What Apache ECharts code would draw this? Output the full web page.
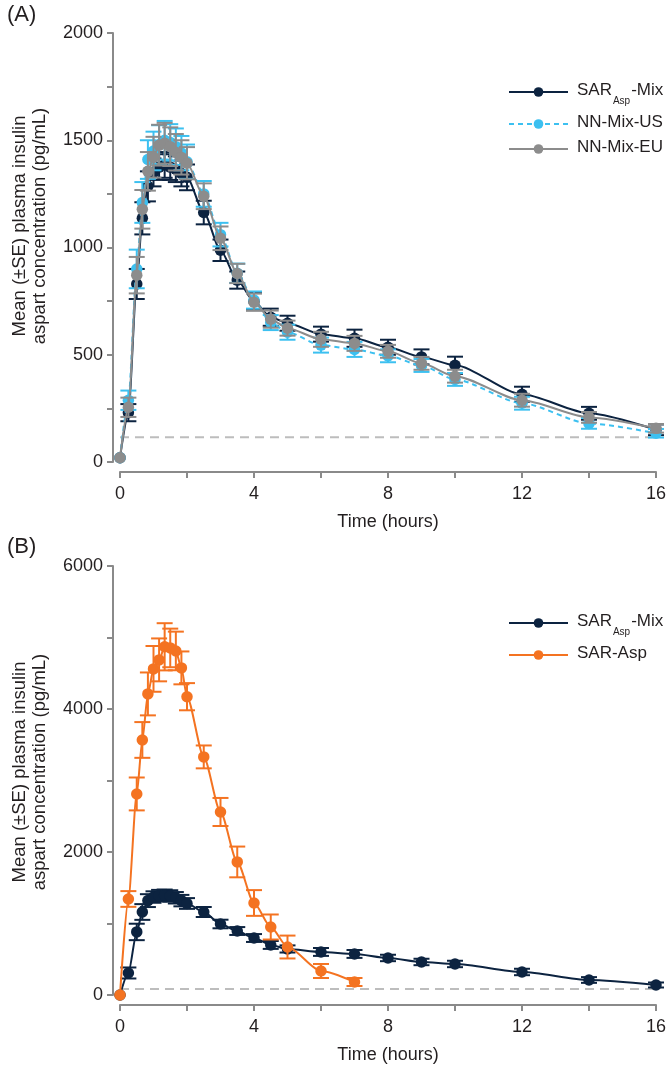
<!DOCTYPE html>
<html><head><meta charset="utf-8">
<script src="https://cdn.jsdelivr.net/npm/echarts@6/dist/echarts.min.js"></script>
<style>html,body{margin:0;padding:0;background:#fff}#c{width:669px;height:1065px}</style>
</head><body><div id="c"></div>
<script>
// ---------- DATA ----------
const xTicks = [0, 4, 8, 12, 16];
const timesA = [0, 0.25, 0.5, 0.667, 0.833, 1, 1.167, 1.333, 1.5, 1.667, 1.833, 2, 2.5, 3, 3.5, 4, 4.5, 5, 6, 7, 8, 9, 10, 12, 14, 16];
const sarMixA   = [20, 230, 830, 1136, 1285, 1350, 1375, 1385, 1375, 1365, 1345, 1327, 1163, 987, 848, 748, 675, 647, 596, 577, 535, 490, 451, 316, 227, 150];
const sarMixASE = [0, 40, 70, 75, 70, 65, 60, 60, 60, 60, 60, 60, 55, 50, 40, 40, 40, 35, 35, 40, 35, 35, 40, 35, 30, 25];
const nnUS      = [20, 288, 900, 1210, 1410, 1450, 1480, 1500, 1490, 1470, 1440, 1400, 1250, 1060, 880, 755, 650, 605, 545, 525, 495, 450, 385, 274, 180, 134];
const nnUSSE    = [0, 45, 90, 95, 90, 90, 90, 90, 85, 85, 80, 80, 60, 55, 45, 40, 35, 35, 35, 35, 30, 30, 30, 30, 25, 20];
const nnEU      = [20, 255, 871, 1178, 1355, 1421, 1477, 1486, 1470, 1444, 1420, 1393, 1239, 1043, 879, 745, 666, 624, 572, 553, 516, 460, 400, 288, 208, 157];
const nnEUSE    = [0, 45, 85, 90, 90, 95, 95, 95, 90, 85, 80, 75, 60, 55, 45, 40, 40, 35, 35, 35, 30, 30, 30, 30, 25, 20];
const lloqA = 115;

const timesB = [0, 0.25, 0.5, 0.667, 0.833, 1, 1.167, 1.333, 1.5, 1.667, 1.833, 2, 2.5, 3, 3.5, 4, 4.5, 5, 6, 7, 8, 9, 10, 12, 14, 16];
const sarMixB   = [0, 308, 882, 1161, 1320, 1370, 1390, 1395, 1385, 1360, 1320, 1280, 1161, 993, 895, 797, 700, 644, 602, 574, 518, 462, 434, 322, 210, 140];
const sarMixBSE = [0, 77, 115, 110, 90, 80, 80, 80, 80, 80, 80, 75, 70, 60, 55, 55, 55, 50, 55, 55, 45, 45, 45, 45, 40, 35];
const timesAsp = [0, 0.25, 0.5, 0.667, 0.833, 1, 1.167, 1.333, 1.5, 1.667, 1.833, 2, 2.5, 3, 3.5, 4, 4.5, 5, 6, 7];
const sarAsp    = [0, 1343, 2812, 3567, 4211, 4561, 4687, 4870, 4854, 4812, 4575, 4172, 3330, 2560, 1861, 1287, 951, 671, 336, 182];
const sarAspSE  = [0, 110, 230, 250, 300, 320, 300, 330, 270, 270, 230, 190, 160, 196, 215, 180, 175, 160, 98, 56];
const lloqB = 85;

const yTicksA = [0, 500, 1000, 1500, 2000];
const yTicksB = [0, 2000, 4000, 6000];
const yTitle = 'Mean (±SE) plasma insulin\naspart concentration (pg/mL)';
const xTitle = 'Time (hours)';

// ---------- STYLE ----------
const FONT = '"Liberation Sans", Arial, Helvetica, sans-serif';
const TXT = '#231f20';
const AX = '#8a8a8a';
const C_NAVY = '#0c2340', C_BLUE = '#3cc0f0', C_GRAY = '#8c8c8c', C_ORANGE = '#f47321';

const chart = echarts.init(document.getElementById('c'));

function errSeries(id, times, mean, se, color, gi, z) {
  return {
    type: 'custom', name: id + '_se', xAxisIndex: gi, yAxisIndex: gi, z: z, silent: true,
    data: times.map((t, i) => [t, mean[i] - se[i], mean[i] + se[i]]),
    encode: { x: 0, y: [1, 2] },
    renderItem: function (params, api) {
      const x = api.value(0), lo = api.value(1), hi = api.value(2);
      if (hi - lo <= 0) return null;
      const a = api.coord([x, lo]), b = api.coord([x, hi]);
      const w = 8, st = { stroke: color, lineWidth: 2 };
      return { type: 'group', children: [
        { type: 'line', shape: { x1: a[0], y1: a[1], x2: b[0], y2: b[1] }, style: st },
        { type: 'line', shape: { x1: a[0] - w, y1: a[1], x2: a[0] + w, y2: a[1] }, style: st },
        { type: 'line', shape: { x1: b[0] - w, y1: b[1], x2: b[0] + w, y2: b[1] }, style: st }
      ] };
    }
  };
}
function lineSeries(id, times, mean, color, gi, z, dashed) {
  return {
    type: 'line', name: id, xAxisIndex: gi, yAxisIndex: gi, z: z,
    data: times.map((t, i) => [t, mean[i]]),
    smooth: 0.25, smoothMonotone: 'x',
    symbol: 'circle', symbolSize: 11.5,
    itemStyle: { color: color },
    lineStyle: { color: color, width: 2, type: dashed ? [5, 4] : 'solid' },
    emphasis: { disabled: true }, animation: false
  };
}
function lloqSeries(val, gi) {
  return {
    type: 'line', name: 'lloq' + gi, xAxisIndex: gi, yAxisIndex: gi, z: 1, silent: true,
    data: [[xTicks[0], val], [xTicks[xTicks.length - 1], val]],
    symbol: 'none', lineStyle: { color: '#bdbdbd', width: 2, type: [9, 6] }, animation: false
  };
}
function xAxis(gi) {
  return {
    type: 'value', gridIndex: gi, min: xTicks[0], max: xTicks[xTicks.length - 1], interval: 4, offset: 10,
    axisLine: { show: true, onZero: false, lineStyle: { color: AX, width: 2 } },
    axisTick: { show: true, length: 6, lineStyle: { color: AX, width: 2 } },
    minorTick: { show: true, splitNumber: 2, length: 6, lineStyle: { color: AX, width: 2 } },
    splitLine: { show: false },
    axisLabel: { color: TXT, fontSize: 18, fontFamily: FONT, margin: 13, formatter: v => String(v) },
    name: xTitle, nameLocation: 'middle', nameGap: 41,
    nameTextStyle: { color: TXT, fontSize: 18, fontFamily: FONT }
  };
}
function yAxis(gi, ticks) {
  return {
    type: 'value', gridIndex: gi, min: ticks[0], max: ticks[ticks.length - 1], interval: ticks[1] - ticks[0], offset: 7,
    axisLine: { show: true, onZero: false, lineStyle: { color: AX, width: 2 } },
    axisTick: { show: true, length: 6, lineStyle: { color: AX, width: 2 } },
    minorTick: { show: true, splitNumber: 2, length: 6, lineStyle: { color: AX, width: 2 } },
    splitLine: { show: false },
    axisLabel: { color: TXT, fontSize: 18, fontFamily: FONT, margin: 10, formatter: v => String(v) }
  };
}
const legendText = {
  sarA: '{a|SAR}{s|Asp}{a|-Mix}', nnUS: '{a|NN-Mix-US}', nnEU: '{a|NN-Mix-EU}',
  sarB: '{a|SAR}{s|Asp}{a|-Mix}', asp: '{a|SAR-Asp}'
};
function legend(names, top) {
  return {
    data: names, orient: 'vertical', left: 508, top: top, padding: 0, itemGap: 8,
    itemWidth: 59, itemHeight: 12, selectedMode: false,
    formatter: n => legendText[n],
    textStyle: { color: TXT, fontFamily: FONT, fontSize: 17, padding: [0, 0, 0, 4],
      rich: {
        a: { fontSize: 17, fontFamily: FONT, color: TXT, lineHeight: 20, verticalAlign: 'top' },
        s: { fontSize: 10, fontFamily: FONT, color: TXT, lineHeight: 10, padding: [14, 1, 0, 1], verticalAlign: 'top' }
      } }
  };
}

chart.setOption({
  animation: false,
  backgroundColor: '#fff',
  grid: [
    { left: 120, right: 11, top: 33, height: 429 },
    { left: 120, right: 11, top: 566, height: 429 }
  ],
  xAxis: [xAxis(0), xAxis(1)],
  yAxis: [yAxis(0, yTicksA), yAxis(1, yTicksB)],
  legend: [legend(['sarA', 'nnUS', 'nnEU'], 82), legend(['sarB', 'asp'], 613)],
  graphic: [
    { type: 'text', left: 7, top: 4, style: { text: '(A)', font: '22px ' + FONT, fill: TXT } },
    { type: 'text', left: 7, top: 536, style: { text: '(B)', font: '22px ' + FONT, fill: TXT } },
    { type: 'text', x: 30, y: 226, rotation: Math.PI / 2,
      style: { text: yTitle, font: '18.5px ' + FONT, fill: TXT, align: 'center', verticalAlign: 'middle', lineHeight: 20 } },
    { type: 'text', x: 30, y: 772, rotation: Math.PI / 2,
      style: { text: yTitle, font: '18.5px ' + FONT, fill: TXT, align: 'center', verticalAlign: 'middle', lineHeight: 20 } }
  ],
  series: [
    lloqSeries(lloqA, 0),
    errSeries('sarA', timesA, sarMixA, sarMixASE, C_NAVY, 0, 2),
    lineSeries('sarA', timesA, sarMixA, C_NAVY, 0, 3, false),
    errSeries('nnUS', timesA, nnUS, nnUSSE, C_BLUE, 0, 4),
    lineSeries('nnUS', timesA, nnUS, C_BLUE, 0, 5, true),
    errSeries('nnEU', timesA, nnEU, nnEUSE, C_GRAY, 0, 6),
    lineSeries('nnEU', timesA, nnEU, C_GRAY, 0, 7, false),
    lloqSeries(lloqB, 1),
    errSeries('sarB', timesB, sarMixB, sarMixBSE, C_NAVY, 1, 2),
    lineSeries('sarB', timesB, sarMixB, C_NAVY, 1, 3, false),
    errSeries('asp', timesAsp, sarAsp, sarAspSE, C_ORANGE, 1, 4),
    lineSeries('asp', timesAsp, sarAsp, C_ORANGE, 1, 5, false)
  ]
});
</script></body></html>
